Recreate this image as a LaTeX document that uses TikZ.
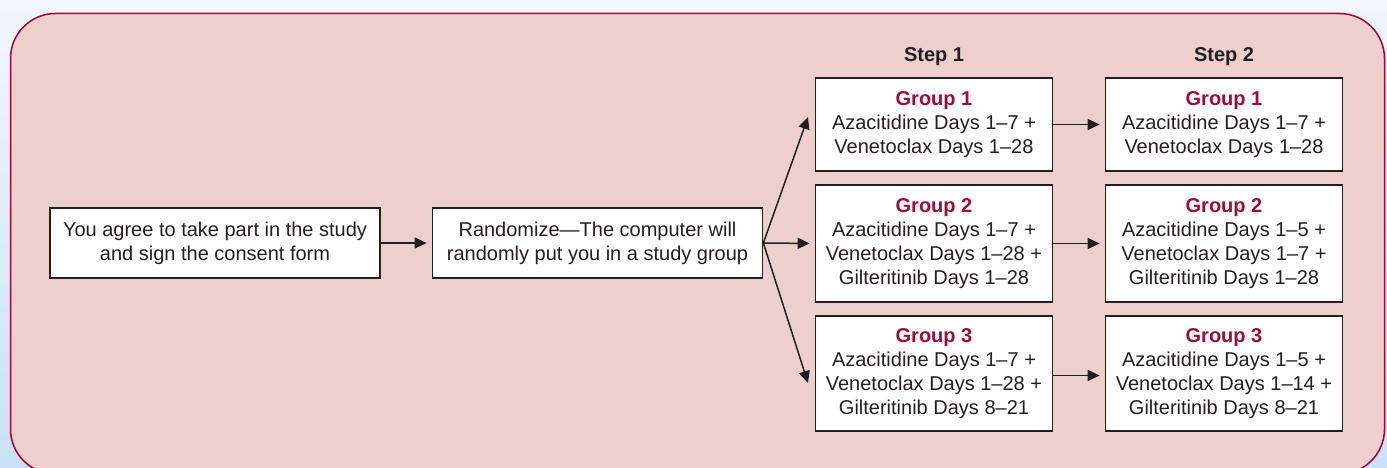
\documentclass[tikz,border=0pt]{standalone}
\usepackage{fontspec}
\setmainfont{Liberation Sans}
\usetikzlibrary{arrows.meta,positioning,calc}
\definecolor{groupred}{RGB}{158,12,56}
\definecolor{framered}{RGB}{165,0,52}
\definecolor{panel}{RGB}{237,208,205}
\definecolor{ink}{RGB}{35,31,32}
\tikzset{
  basic/.style  = {draw=ink, line width=1.7pt, fill=white, text=ink, align=center,
                   font=\fontsize{20}{23.8}\selectfont, inner sep=0pt, rectangle},
  wide/.style   = {basic, minimum width=330pt, minimum height=70pt},
  group/.style  = {basic, minimum width=237pt},
  head/.style   = {text=ink, font=\fontsize{20}{23.8}\selectfont\bfseries},
  link/.style   = {draw=ink, line width=1.5pt, -{Triangle[length=12pt,width=11pt]}, shorten >=5pt}
}
\newcommand{\grp}[1]{{\color{groupred}\bfseries Group #1}}

\begin{document}
\begin{tikzpicture}[x=1pt,y=-1pt]
\useasboundingbox (0,0) rectangle (1387,468);
\shade[top color={rgb,255:red,242;green,247;blue,253}, bottom color={rgb,255:red,200;green,225;blue,246}]
  (0,0) rectangle (1387,468);
\begin{scope}
\clip (0,0) rectangle (1387,468);
\draw[framered, fill=panel, line width=1.5pt, rounded corners=45pt] (10.5,13.5) rectangle (1384.5,474);
\end{scope}

\node[wide] (agree) at (215,243) {You agree to take part in the study\\and sign the consent form};
\node[wide] (rand) at (597.5,243) {Randomize---The computer will\\randomly put you in a study group};

\node[head] (step1) at (934,57) {Step 1};
\node[head] (step2) at (1224,57) {Step 2};

\node[group, minimum height=93pt] (g1a) at (934,124.5) {\grp{1}\\Azacitidine Days 1--7 +\\Venetoclax Days 1--28};
\node[group, minimum height=116.5pt] (g2a) at (934,243.5) {\grp{2}\\Azacitidine Days 1--7 +\\Venetoclax Days 1--28 +\\Gilteritinib Days 1--28};
\node[group, minimum height=115.5pt] (g3a) at (934,373.5) {\grp{3}\\Azacitidine Days 1--7 +\\Venetoclax Days 1--28 +\\Gilteritinib Days 8--21};

\node[group, minimum height=93pt] (g1b) at (1224,124.5) {\grp{1}\\Azacitidine Days 1--7 +\\Venetoclax Days 1--28};
\node[group, minimum height=116.5pt] (g2b) at (1224,243.5) {\grp{2}\\Azacitidine Days 1--5 +\\Venetoclax Days 1--7 +\\Gilteritinib Days 1--28};
\node[group, minimum height=115.5pt] (g3b) at (1224,373.5) {\grp{3}\\Azacitidine Days 1--5 +\\Venetoclax Days 1--14 +\\Gilteritinib Days 8--21};

% branch tips
\coordinate (tipup) at (808,117);
\coordinate (tipdown) at (808,383);

\draw[link] (agree) -- (rand);
\draw[link] (rand.east) -- (g2a.west);
\draw[link, shorten >=0pt] (rand.east) -- (tipup);
\draw[link, shorten >=0pt] (rand.east) -- (tipdown);
\draw[link] (g1a.east) -- (g1b.west);
\draw[link] (g2a.east) -- (g2b.west);
\draw[link] ($(g3a.east)+(0,2)$) -- ($(g3b.west)+(0,2)$);
\end{tikzpicture}
\end{document}
